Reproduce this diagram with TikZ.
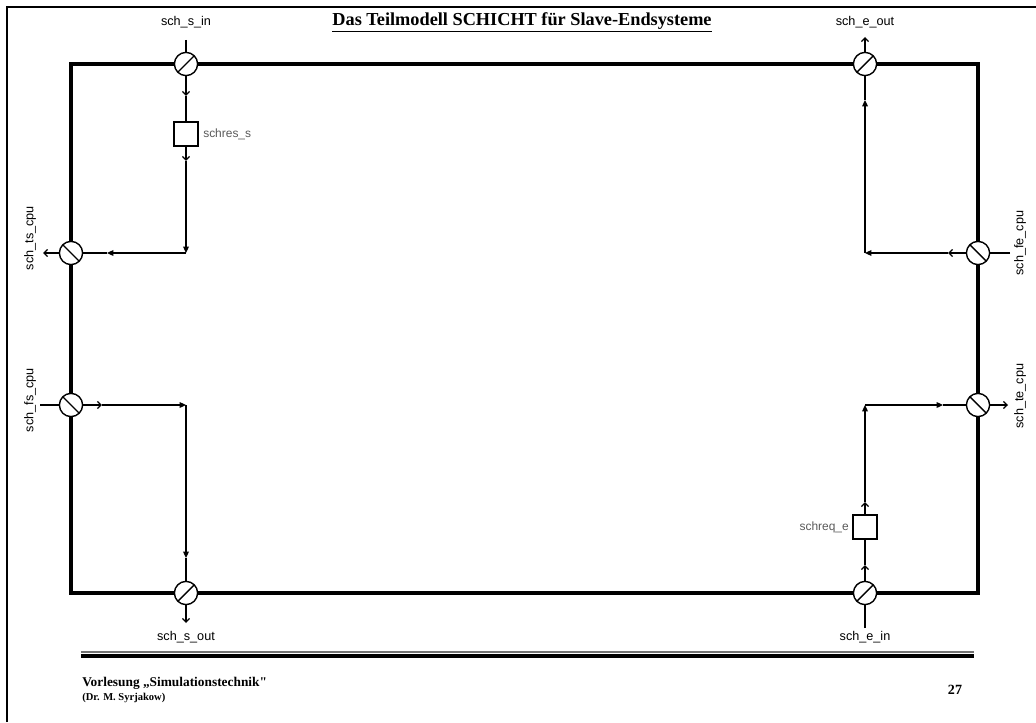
\documentclass[tikz,border=0pt]{standalone}
\usepackage{fontspec}
\setmainfont{Liberation Serif}
\setsansfont{Liberation Sans}
\newfontfamily\footfont{Liberation Serif}
\usetikzlibrary{arrows.meta}

\tikzset{
  flow/.style={line width=0.9pt},
  barb/.style={flow, -{Straight Barb[length=2.6pt,width=5pt]}},
  tri/.style={flow, -{Triangle[length=4.5pt,width=4pt]}},
  port/.style={circle, draw, fill=white, line width=1pt, minimum size=0.58cm, inner sep=0pt},
  portup/.style={port, path picture={\draw[line width=1pt] (path picture bounding box.south west) -- (path picture bounding box.north east);}},
  portdown/.style={port, path picture={\draw[line width=1pt] (path picture bounding box.north west) -- (path picture bounding box.south east);}},
  queue/.style={draw, fill=white, line width=0.8pt, minimum size=0.6cm, inner sep=0pt},
  lbl/.style={font=\sffamily\fontsize{9}{10}\selectfont, inner sep=0pt},
  qlbl/.style={font=\sffamily\fontsize{8.5}{10}\selectfont, text=black!65, inner sep=0pt}
}

\begin{document}
\begin{tikzpicture}[x=0.025cm, y=-0.025cm]
    \useasboundingbox (0,0) rectangle (1036,722);

    % page frame
    \draw[line width=1.5pt] (7,722) -- (7,7) -- (1036,7);

    \node[font=\bfseries\fontsize{13}{15}\selectfont] (title) at (522,22) {\underline{Das Teilmodell SCHICHT für Slave-Endsysteme}};

    \draw[line width=2.4pt] (71,64) rectangle (978,593);

    \node[portup]   (sin)   at (186,64)  {};
    \node[portdown] (tscpu) at (71,253)  {};
    \node[portdown] (fscpu) at (71,405)  {};
    \node[portup]   (sout)  at (186,593) {};
    \node[portup]   (eout)  at (865,64)  {};
    \node[portdown] (fecpu) at (978,253) {};
    \node[portdown] (tecpu) at (978,405) {};
    \node[portup]   (ein)   at (865,593) {};

    \node[queue] (schres) at (186,134) {};
    \node[queue] (schreq) at (865,527) {};

    \node[qlbl, anchor=west] (schreslbl) at (203,134) {schres\_s};
    \node[qlbl, anchor=east] (schreqlbl) at (849,527) {schreq\_e};

    \node[lbl] (sinlbl)   at (186,22)  {sch\_s\_in};
    \node[lbl] (soutlbl)  at (186,637) {sch\_s\_out};
    \node[lbl] (eoutlbl)  at (865,22)  {sch\_e\_out};
    \node[lbl] (einlbl)   at (865,637) {sch\_e\_in};
    \node[lbl, rotate=90] (tslbl) at (30,238)   {sch\_ts\_cpu};
    \node[lbl, rotate=90] (fslbl) at (30,400)   {sch\_fs\_cpu};
    \node[lbl, rotate=90] (felbl) at (1020,243) {sch\_fe\_cpu};
    \node[lbl, rotate=90] (telbl) at (1020,396) {sch\_te\_cpu};

    % slave side, sending
    \coordinate (s0) at (186,40);
    \coordinate (s1) at (186,96);
    \coordinate (s2) at (186,161);
    \coordinate (s3) at (186,253);
    \coordinate (s4) at (107,253);
    \coordinate (s5) at (43,253);
    \draw[flow] (s0) -- (sin);
    \draw[barb] (sin) -- (s1);
    \draw[flow] (s1) -- (schres);
    \draw[barb] (schres) -- (s2);
    \draw[tri] (s2) -- (s3);
    \draw[tri] (s3) -- (s4);
    \draw[flow] (s4) -- (tscpu);
    \draw[barb] (tscpu) -- (s5);

    % slave side, receiving
    \coordinate (f0) at (40,405);
    \coordinate (f1) at (102,405);
    \coordinate (f2) at (186,405);
    \coordinate (f3) at (186,558);
    \coordinate (f4) at (186,623);
    \draw[flow] (f0) -- (fscpu);
    \draw[barb] (fscpu) -- (f1);
    \draw[tri] (f1) -- (f2);
    \draw[tri] (f2) -- (f3);
    \draw[flow] (f3) -- (sout);
    \draw[barb] (sout) -- (f4);

    % end system side, out
    \coordinate (e0) at (1010,253);
    \coordinate (e1) at (948,253);
    \coordinate (e2) at (865,253);
    \coordinate (e3) at (865,100);
    \coordinate (e4) at (865,37);
    \draw[flow] (e0) -- (fecpu);
    \draw[barb] (fecpu) -- (e1);
    \draw[tri] (e1) -- (e2);
    \draw[tri] (e2) -- (e3);
    \draw[flow] (e3) -- (eout);
    \draw[barb] (eout) -- (e4);

    % end system side, in
    \coordinate (r0) at (865,628);
    \coordinate (r1) at (865,565);
    \coordinate (r2) at (865,502);
    \coordinate (r3) at (865,405);
    \coordinate (r4) at (943,405);
    \coordinate (r5) at (1008,405);
    \draw[flow] (r0) -- (ein);
    \draw[barb] (ein) -- (r1);
    \draw[flow] (r1) -- (schreq);
    \draw[barb] (schreq) -- (r2);
    \draw[tri] (r2) -- (r3);
    \draw[tri] (r3) -- (r4);
    \draw[flow] (r4) -- (tecpu);
    \draw[barb] (tecpu) -- (r5);

    % footer
    \draw[line width=1pt, black!55] (81,652) -- (974,652);
    \draw[line width=2.4pt] (81,656) -- (974,656);
    \node[anchor=west, font=\footfont\bfseries\fontsize{9.5}{11}\selectfont, inner sep=0pt] (lect) at (82,683) {Vorlesung „Simulationstechnik"};
    \node[anchor=west, font=\bfseries\fontsize{7.5}{9}\selectfont, inner sep=0pt] (lecturer) at (82,698) {(Dr. M. Syrjakow)};
    \node[font=\bfseries\fontsize{10}{12}\selectfont] (page) at (955,690) {27};
\end{tikzpicture}
\end{document}
